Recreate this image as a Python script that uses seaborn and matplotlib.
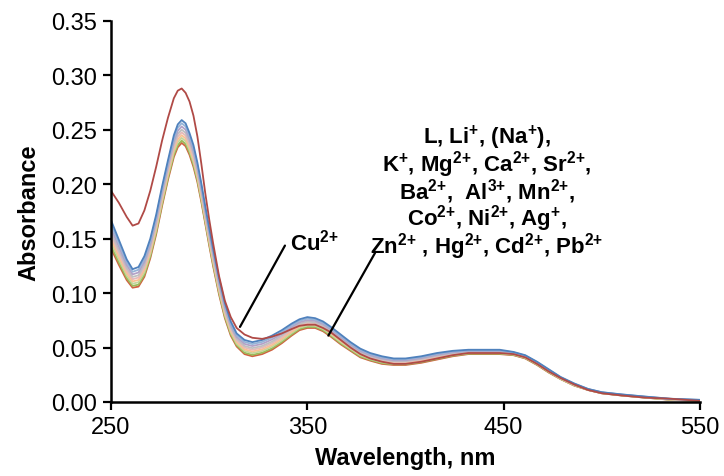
import matplotlib
matplotlib.use("Agg")
import numpy as np
import pandas as pd
import matplotlib.pyplot as plt
import seaborn as sns

# ---------------- data ----------------
wavelength = [250, 254, 258, 261, 264, 267, 270, 273, 276, 279, 282, 284, 286, 288, 290, 292, 294, 296, 298, 300,
              302, 305, 308, 311, 314, 318, 322, 327, 332, 337, 342, 346, 350, 354, 358, 362, 367, 372, 377, 382,
              388, 394, 400, 408, 416, 424, 432, 440, 448, 455, 461, 467, 473, 479, 486, 493, 500, 510, 522, 535, 550]

abs_L = [0.167, 0.149, 0.131, 0.122, 0.124, 0.134, 0.150, 0.172, 0.198, 0.222, 0.245, 0.255, 0.259, 0.256, 0.247,
         0.236, 0.220, 0.201, 0.180, 0.160, 0.141, 0.114, 0.091, 0.074, 0.063, 0.057, 0.055, 0.057, 0.061, 0.066,
         0.072, 0.076, 0.078, 0.077, 0.074, 0.069, 0.062, 0.055, 0.049, 0.045, 0.042, 0.040, 0.040, 0.042, 0.045,
         0.047, 0.048, 0.048, 0.048, 0.046, 0.043, 0.037, 0.030, 0.023, 0.017, 0.012, 0.009, 0.007, 0.005, 0.003, 0.002]
abs_Li = [0.1634, 0.1458, 0.1283, 0.1196, 0.1215, 0.1313, 0.1475, 0.1695, 0.1955, 0.2195, 0.2422, 0.2521, 0.2561,
          0.2531, 0.2442, 0.2332, 0.2175, 0.1986, 0.1778, 0.1578, 0.1388, 0.1119, 0.0890, 0.0722, 0.0613, 0.0552,
          0.0532, 0.0552, 0.0592, 0.0643, 0.0705, 0.0746, 0.0766, 0.0757, 0.0727, 0.0677, 0.0607, 0.0539, 0.0479,
          0.0440, 0.0410, 0.0392, 0.0392, 0.0412, 0.0442, 0.0463, 0.0474, 0.0474, 0.0474, 0.0456, 0.0426, 0.0366,
          0.0296, 0.0227, 0.0167, 0.0119, 0.0089, 0.0069, 0.0049, 0.0029, 0.0019]
abs_Na = [0.1597, 0.1426, 0.1257, 0.1172, 0.1190, 0.1287, 0.1450, 0.1670, 0.1930, 0.2170, 0.2394, 0.2491, 0.2531,
          0.2501, 0.2414, 0.2304, 0.2150, 0.1962, 0.1755, 0.1555, 0.1365, 0.1098, 0.0871, 0.0704, 0.0596, 0.0534,
          0.0514, 0.0534, 0.0574, 0.0626, 0.0689, 0.0732, 0.0752, 0.0745, 0.0715, 0.0665, 0.0595, 0.0528, 0.0468,
          0.0430, 0.0400, 0.0383, 0.0383, 0.0403, 0.0433, 0.0456, 0.0469, 0.0469, 0.0469, 0.0452, 0.0422, 0.0362,
          0.0292, 0.0224, 0.0164, 0.0117, 0.0087, 0.0067, 0.0047, 0.0027, 0.0017]
abs_K = [0.1561, 0.1393, 0.1230, 0.1149, 0.1164, 0.1260, 0.1424, 0.1644, 0.1904, 0.2144, 0.2366, 0.2462, 0.2502,
         0.2472, 0.2386, 0.2276, 0.2124, 0.1939, 0.1733, 0.1533, 0.1343, 0.1077, 0.0851, 0.0685, 0.0580, 0.0515,
         0.0495, 0.0515, 0.0555, 0.0610, 0.0674, 0.0718, 0.0738, 0.0732, 0.0702, 0.0652, 0.0582, 0.0516, 0.0456,
         0.0421, 0.0391, 0.0375, 0.0375, 0.0395, 0.0425, 0.0449, 0.0463, 0.0463, 0.0463, 0.0447, 0.0417, 0.0357,
         0.0287, 0.0222, 0.0162, 0.0116, 0.0086, 0.0066, 0.0046, 0.0026, 0.0016]
abs_Mg = [0.1530, 0.1366, 0.1207, 0.1128, 0.1143, 0.1237, 0.1403, 0.1623, 0.1883, 0.2123, 0.2342, 0.2437, 0.2477,
          0.2447, 0.2362, 0.2252, 0.2103, 0.1918, 0.1714, 0.1514, 0.1324, 0.1059, 0.0834, 0.0670, 0.0565, 0.0500,
          0.0480, 0.0500, 0.0540, 0.0595, 0.0661, 0.0706, 0.0726, 0.0721, 0.0691, 0.0641, 0.0571, 0.0507, 0.0447,
          0.0412, 0.0382, 0.0368, 0.0368, 0.0388, 0.0418, 0.0443, 0.0458, 0.0458, 0.0458, 0.0444, 0.0414, 0.0354,
          0.0284, 0.0219, 0.0159, 0.0115, 0.0085, 0.0065, 0.0045, 0.0025, 0.0015]
abs_Ca = [0.1498, 0.1338, 0.1185, 0.1108, 0.1121, 0.1215, 0.1381, 0.1601, 0.1861, 0.2101, 0.2318, 0.2411, 0.2451,
          0.2421, 0.2338, 0.2228, 0.2081, 0.1898, 0.1694, 0.1494, 0.1304, 0.1041, 0.0818, 0.0654, 0.0551, 0.0484,
          0.0464, 0.0484, 0.0524, 0.0581, 0.0647, 0.0694, 0.0714, 0.0711, 0.0681, 0.0631, 0.0561, 0.0497, 0.0437,
          0.0404, 0.0374, 0.0360, 0.0360, 0.0380, 0.0410, 0.0437, 0.0454, 0.0454, 0.0454, 0.0440, 0.0410, 0.0350,
          0.0280, 0.0217, 0.0157, 0.0113, 0.0083, 0.0063, 0.0043, 0.0023, 0.0013]
abs_Sr = [0.1467, 0.1311, 0.1162, 0.1087, 0.1100, 0.1192, 0.1360, 0.1580, 0.1840, 0.2080, 0.2294, 0.2386, 0.2426,
          0.2396, 0.2314, 0.2204, 0.2060, 0.1877, 0.1675, 0.1475, 0.1285, 0.1023, 0.0801, 0.0639, 0.0536, 0.0469,
          0.0449, 0.0469, 0.0509, 0.0566, 0.0634, 0.0682, 0.0702, 0.0700, 0.0670, 0.0620, 0.0550, 0.0488, 0.0428,
          0.0395, 0.0365, 0.0353, 0.0353, 0.0373, 0.0403, 0.0431, 0.0449, 0.0449, 0.0449, 0.0437, 0.0407, 0.0347,
          0.0277, 0.0214, 0.0154, 0.0112, 0.0082, 0.0062, 0.0042, 0.0022, 0.0012]
abs_Ba = [0.1436, 0.1283, 0.1139, 0.1067, 0.1078, 0.1169, 0.1338, 0.1558, 0.1818, 0.2058, 0.2270, 0.2361, 0.2401,
          0.2371, 0.2290, 0.2180, 0.2038, 0.1857, 0.1656, 0.1456, 0.1266, 0.1005, 0.0784, 0.0623, 0.0522, 0.0453,
          0.0433, 0.0453, 0.0493, 0.0552, 0.0621, 0.0670, 0.0690, 0.0689, 0.0659, 0.0609, 0.0539, 0.0478, 0.0418,
          0.0387, 0.0357, 0.0346, 0.0346, 0.0366, 0.0396, 0.0425, 0.0444, 0.0444, 0.0444, 0.0433, 0.0403, 0.0343,
          0.0273, 0.0212, 0.0152, 0.0111, 0.0081, 0.0061, 0.0041, 0.0021, 0.0011]
abs_Zn = [0.141, 0.126, 0.112, 0.105, 0.106, 0.115, 0.132, 0.154, 0.180, 0.204, 0.225, 0.234, 0.238, 0.235, 0.227,
          0.216, 0.202, 0.184, 0.164, 0.144, 0.125, 0.099, 0.077, 0.061, 0.051, 0.044, 0.042, 0.044, 0.048, 0.054,
          0.061, 0.066, 0.068, 0.068, 0.065, 0.060, 0.053, 0.047, 0.041, 0.038, 0.035, 0.034, 0.034, 0.036, 0.039,
          0.042, 0.044, 0.044, 0.044, 0.043, 0.040, 0.034, 0.027, 0.021, 0.015, 0.011, 0.008, 0.006, 0.004, 0.002, 0.001]
abs_Cu = [0.194, 0.183, 0.170, 0.162, 0.164, 0.176, 0.194, 0.216, 0.240, 0.261, 0.279, 0.286, 0.288, 0.284, 0.276,
          0.263, 0.244, 0.219, 0.192, 0.168, 0.146, 0.116, 0.093, 0.078, 0.068, 0.062, 0.059, 0.058, 0.060, 0.063,
          0.067, 0.070, 0.071, 0.071, 0.068, 0.064, 0.057, 0.050, 0.044, 0.040, 0.037, 0.035, 0.035, 0.037, 0.040,
          0.043, 0.045, 0.045, 0.045, 0.044, 0.041, 0.035, 0.028, 0.022, 0.016, 0.011, 0.008, 0.006, 0.004, 0.003, 0.001]

series_names = ["Zn", "Ba", "Sr", "Ca", "Mg", "K", "Na", "Li", "L", "Cu"]
series_values = [abs_Zn, abs_Ba, abs_Sr, abs_Ca, abs_Mg, abs_K, abs_Na, abs_Li, abs_L, abs_Cu]
series_colors = ["#D0603F", "#9BBB59", "#C3D69B", "#FAC090", "#E6B9B8", "#BFBFBF", "#B3A2C7", "#95B3D7",
                 "#4F81BD", "#B04A46"]

x_ticks = [250, 350, 450, 550]
y_ticks = [0.00, 0.05, 0.10, 0.15, 0.20, 0.25, 0.30, 0.35]

label_lines = [
    r"L, Li$^{{+}}$, (Na$^{{+}}$),",
    r"K$^{{+}}$, Mg$^{2{+}}$, Ca$^{2{+}}$, Sr$^{2{+}}$,",
    r"Ba$^{2{+}}$,  Al$^{3{+}}$, Mn$^{2{+}}$,",
    r"Co$^{2{+}}$, Ni$^{2{+}}$, Ag$^{{+}}$,",
    r"Zn$^{2{+}}$ , Hg$^{2{+}}$, Cd$^{2{+}}$, Pb$^{2{+}}$",
]
cu_label = r"Cu$^{2{+}}$"

# ---------------- build long table ----------------
rows = []
for name, vals in zip(series_names, series_values):
    for w, v in zip(wavelength, vals):
        rows.append((name, w, v))
df = pd.DataFrame(rows, columns=["series", "wavelength", "absorbance"])

# ---------------- style ----------------
sns.set_theme(style="ticks")
plt.rcParams["font.family"] = ["Liberation Sans", "DejaVu Sans"]
plt.rcParams["mathtext.fontset"] = "custom"
plt.rcParams["mathtext.rm"] = "Liberation Sans:bold"
plt.rcParams["mathtext.bf"] = "Liberation Sans:bold"
plt.rcParams["mathtext.it"] = "Liberation Sans:bold"
plt.rcParams["mathtext.default"] = "bf"

fig = plt.figure(figsize=(7.24, 4.77), dpi=100)
ax = fig.add_axes([111 / 724, 1 - 403 / 477, (700 - 111) / 724, (403 - 22) / 477])

sns.lineplot(data=df, x="wavelength", y="absorbance", hue="series",
             hue_order=series_names, palette=dict(zip(series_names, series_colors)),
             legend=False, errorbar=None, linewidth=1.3, ax=ax)
for ln in ax.get_lines():
    ln.set_solid_joinstyle("round")

ax.set_xlim(250, 550)
ax.set_ylim(0, 0.35)
ax.set_xticks(x_ticks)
ax.set_xticklabels([str(t) for t in x_ticks])
ax.set_yticks(y_ticks)
ax.set_yticklabels([f"{t:.2f}" for t in y_ticks])

for s in ["top", "right"]:
    ax.spines[s].set_visible(False)
for s in ["left", "bottom"]:
    ax.spines[s].set_color("black")
    ax.spines[s].set_linewidth(1.8)
ax.tick_params(axis="both", direction="out", length=6, width=1.6, color="black",
               labelsize=17, labelcolor="black", pad=4)

ax.set_xlabel("Wavelength, nm", fontsize=17, fontweight="bold", color="black", labelpad=6)
ax.set_ylabel("Absorbance", fontsize=17, fontweight="bold", color="black", labelpad=8)

# annotations
ax.plot([315.7, 338.6], [0.069, 0.1437], color="black", lw=1.6)
ax.plot([360.7, 384.5], [0.061, 0.137], color="black", lw=1.6)
ax.text(341.2, 0.147, cu_label, fontsize=16, fontweight="bold", ha="left", va="center", color="black")
ax.text(441.5, 0.1930, "\n".join(label_lines), fontsize=16, fontweight="bold", ha="center", va="center",
        multialignment="center", linespacing=0.86, color="black")

fig.savefig("out.png", dpi=100)
